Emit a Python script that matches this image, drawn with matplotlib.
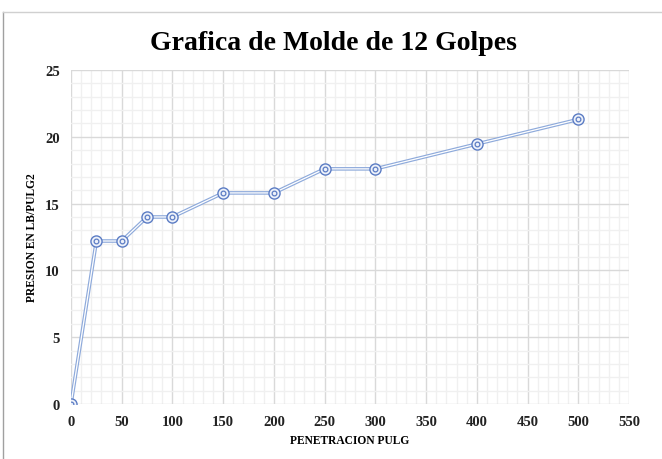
import matplotlib.pyplot as plt
from matplotlib.lines import Line2D
from matplotlib.ticker import MultipleLocator

# Penetration (x) vs pressure (y) for the 12-blow mold
penetracion = [0, 25, 50, 75, 100, 150, 200, 250, 300, 400, 500]
presion = [0, 12.2, 12.2, 14.0, 14.0, 15.8, 15.8, 17.6, 17.6, 19.46, 21.3]

FONT = 'Liberation Serif'
LINE_BLUE = '#8eaadb'
MARK_BLUE = '#5b7cc4'

fig = plt.figure(figsize=(6.62, 4.6), dpi=100)
ax = fig.add_axes([71 / 662, 1 - 405 / 460, 558 / 662, 334 / 460])

# Excel-style double line: thick blue with a white core
ax.plot(penetracion, presion, color=LINE_BLUE, lw=2.6, zorder=3, solid_capstyle='butt')
ax.plot(penetracion, presion, color='white', lw=0.9, zorder=4, solid_capstyle='butt')
# target-style markers
ax.plot(penetracion, presion, ls='none', marker='o', ms=8, mfc='#eef2fa',
        mec=MARK_BLUE, mew=1.0, zorder=5)
ax.plot(penetracion, presion, ls='none', marker='o', ms=3.4, mfc='#eef2fa',
        mec=MARK_BLUE, mew=0.9, zorder=6)

ax.set_xlim(0, 550)
ax.set_ylim(0, 25)
ax.xaxis.set_major_locator(MultipleLocator(50))
ax.yaxis.set_major_locator(MultipleLocator(5))
ax.xaxis.set_minor_locator(MultipleLocator(10))
ax.yaxis.set_minor_locator(MultipleLocator(1))
ax.grid(which='major', color='#d9d9d9', lw=1.0)
ax.grid(which='minor', color='#f0f0f0', lw=1.0)
ax.set_axisbelow(True)
for s in ax.spines.values():
    s.set_visible(False)
ax.tick_params(which='both', length=0)
ax.tick_params(axis='x', pad=8)
ax.tick_params(axis='y', pad=8)
for lbl in ax.get_xticklabels() + ax.get_yticklabels():
    lbl.set_fontfamily(FONT)
    lbl.set_fontweight('bold')
    lbl.set_fontsize(10.5)
    lbl.set_color('#222222')

ax.set_xlabel('PENETRACION PULG', fontfamily=FONT, fontweight='bold',
              fontsize=8.3, labelpad=4)
ax.set_ylabel('PRESION EN LB/PULG2', fontfamily=FONT, fontweight='bold',
              fontsize=8.3, labelpad=5)
fig.text(333 / 662, 1 - 43 / 460, 'Grafica de Molde de 12 Golpes',
         fontfamily=FONT, fontweight='bold', fontsize=20, ha='center', va='center')

# sheet borders around the chart
fig.add_artist(Line2D([3 / 662, 3 / 662], [0, 1 - 13 / 460], color='#a0a0a0', lw=1,
                      transform=fig.transFigure))
fig.add_artist(Line2D([3 / 662, 1], [1 - 13 / 460, 1 - 13 / 460], color='#d0d0d0', lw=1,
                      transform=fig.transFigure))

fig.savefig('out.png', dpi=100)
